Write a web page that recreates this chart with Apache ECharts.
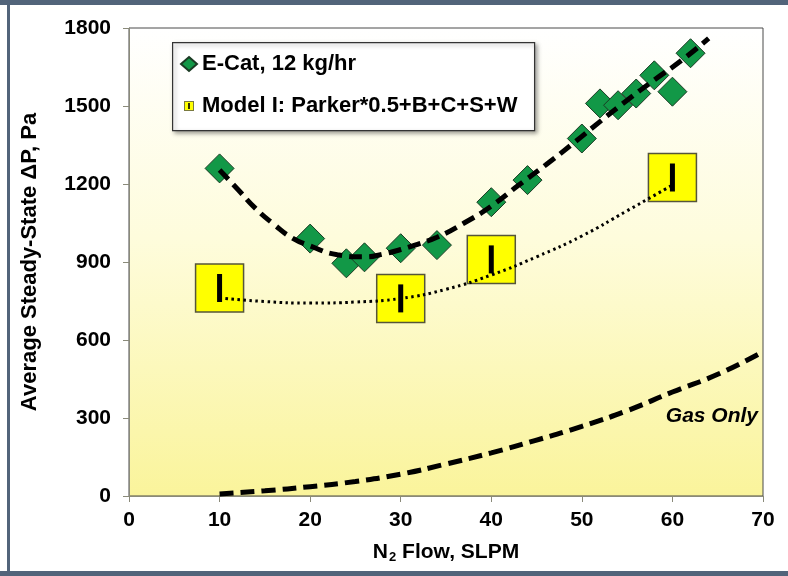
<!DOCTYPE html>
<html>
<head>
<meta charset="utf-8">
<script src="https://cdn.jsdelivr.net/npm/echarts@6/dist/echarts.min.js"></script>
<style>
  html, body { margin: 0; padding: 0; background: #ffffff; }
  #chart { width: 788px; height: 576px; }
</style>
</head>
<body>
<div id="chart"></div>
<script>
// Measured E-Cat pressure drop
const ecatFlow = [10, 20, 24, 26, 30, 34, 40, 44, 50, 52, 54, 56, 58, 60, 62];
const ecatDP   = [1260, 990, 895, 918, 953, 965, 1130, 1215, 1375, 1510, 1503, 1548, 1618, 1555, 1703];

// Fitted curve through the E-Cat data
const ecatFitFlow = [10, 12, 14, 16, 18, 20, 23, 26, 28, 30, 32, 34, 37, 40, 43, 46, 49, 52, 55, 58, 61, 64];
const ecatFitDP   = [1254, 1180, 1105, 1045, 993, 962, 928, 920, 930, 948, 970, 995, 1050, 1115, 1195, 1273, 1355, 1440, 1522, 1600, 1675, 1760];

// Model I predictions
const modelFlow = [10, 30, 40, 60];
const modelDP   = [800, 760, 910, 1225];

// Fitted curve through the model points
const modelFitFlow = [10, 15, 20, 25, 30, 35, 40, 45, 50, 55, 60];
const modelFitDP   = [762, 748, 742, 746, 760, 795, 850, 920, 1000, 1097, 1196];

// Gas-only pressure drop
const gasFlow = [10, 15, 20, 25, 30, 35, 40, 45, 50, 55, 60, 65, 70];
const gasDP   = [8, 20, 36, 56, 84, 123, 166, 215, 268, 328, 400, 468, 555];

// Axis ticks
const xTicks = [0, 10, 20, 30, 40, 50, 60, 70];
const yTicks = [0, 300, 600, 900, 1200, 1500, 1800];

const ecatName = 'E-Cat, 12 kg/hr';
const modelName = 'Model I: Parker*0.5+B+C+S+W';
const FONT = "'Liberation Sans', Arial, Helvetica, sans-serif";

const pairs = (xs, ys) => xs.map((x, i) => [x, ys[i]]);

const modelIcon = 'image://data:image/svg+xml;charset=utf-8,' + encodeURIComponent(
  "<svg xmlns='http://www.w3.org/2000/svg' width='16' height='14'>" +
  "<rect x='3.5' y='2.5' width='9' height='9' fill='#ffff00' stroke='#7a7a40' stroke-width='1'/>" +
  "<rect x='7.2' y='4' width='1.6' height='6' fill='#000'/></svg>");

const chart = echarts.init(document.getElementById('chart'), null, { renderer: 'canvas' });

chart.setOption({
  animation: false,
  backgroundColor: '#ffffff',
  textStyle: { fontFamily: FONT },
  grid: {
    left: 129, right: 25, top: 28, bottom: 80,
    show: true,
    borderColor: '#4a4a4a',
    borderWidth: 1,
    backgroundColor: new echarts.graphic.LinearGradient(0, 0, 0, 1, [
      { offset: 0, color: '#ffffff' },
      { offset: 0.45, color: '#fefcdc' },
      { offset: 1, color: '#faf49b' }
    ])
  },
  xAxis: {
    type: 'value',
    min: xTicks[0], max: xTicks[xTicks.length - 1], interval: 10,
    axisLine: { show: true, lineStyle: { color: '#8a8a7a', width: 1 } },
    axisTick: { show: true, inside: false, length: 6, lineStyle: { color: '#8a8a7a' } },
    axisLabel: { color: '#000', fontSize: 21, fontWeight: 'bold', fontFamily: FONT, margin: 14,
                 formatter: v => String(v) },
    splitLine: { show: false },
    name: '{n|N}{s|2}{n| Flow, SLPM}',
    nameLocation: 'middle',
    nameGap: 45,
    nameTextStyle: {
      rich: {
        n: { fontSize: 21, fontWeight: 'bold', color: '#000', fontFamily: FONT },
        s: { fontSize: 13, fontWeight: 'bold', color: '#000', fontFamily: FONT, padding: [10, 0, 0, 1] }
      }
    }
  },
  yAxis: {
    type: 'value',
    min: yTicks[0], max: yTicks[yTicks.length - 1], interval: 300,
    axisLine: { show: true, lineStyle: { color: '#8a8a7a', width: 1 } },
    axisTick: { show: true, inside: false, length: 6, lineStyle: { color: '#8a8a7a' } },
    axisLabel: { color: '#000', fontSize: 21, fontWeight: 'bold', fontFamily: FONT, margin: 18,
                 formatter: v => String(v) },
    splitLine: { show: false },
    name: 'Average Steady-State \u0394P, Pa',
    nameLocation: 'middle',
    nameGap: 88,
    nameTextStyle: { fontSize: 22, fontWeight: 'bold', color: '#000', fontFamily: FONT }
  },
  legend: {
    orient: 'vertical',
    left: 180, top: 53,
    padding: 0,
    itemWidth: 16, itemHeight: 14,
    itemGap: 20,
    selectedMode: false,
    textStyle: { fontSize: 22, fontWeight: 'bold', color: '#000', fontFamily: FONT, lineHeight: 22 },
    data: [
      { name: ecatName, icon: 'diamond' },
      { name: modelName, icon: modelIcon }
    ]
  },
  graphic: [
    // frame around the figure
    { type: 'rect', left: 0, top: 0, shape: { width: 788, height: 5 }, style: { fill: '#52647a' }, z: 100 },
    { type: 'rect', left: 7, top: 0, shape: { width: 3, height: 576 }, style: { fill: '#52647a' }, z: 100 },
    { type: 'rect', left: 0, top: 571, shape: { width: 788, height: 5 }, style: { fill: '#52647a' }, z: 100 },
    // legend box
    {
      type: 'rect', left: 172, top: 42, z: 0, zlevel: 0,
      shape: { width: 362, height: 88 },
      style: {
        fill: '#ffffff', stroke: '#333333', lineWidth: 1.2,
        shadowBlur: 4, shadowOffsetX: 2, shadowOffsetY: 2, shadowColor: 'rgba(0,0,0,0.35)'
      }
    },
    {
      type: 'text', right: 30, top: 406, z: 10,
      style: { text: 'Gas Only', font: "italic bold 21px 'Liberation Sans', Arial, sans-serif", fill: '#000' }
    }
  ],
  series: [
    {
      name: ecatName,
      type: 'scatter',
      data: pairs(ecatFlow, ecatDP),
      symbol: 'diamond',
      symbolSize: 29,
      itemStyle: { color: '#129847', borderColor: '#1b3b24', borderWidth: 1, opacity: 1 },
      z: 2, silent: true
    },
    {
      name: 'ecatFit',
      type: 'line',
      data: pairs(ecatFitFlow, ecatFitDP),
      smooth: true,
      showSymbol: false,
      lineStyle: { color: '#000', width: 5, type: [13, 7] },
      z: 3, silent: true
    },
    {
      name: modelName,
      type: 'scatter',
      data: pairs(modelFlow, modelDP),
      symbol: 'rect',
      symbolSize: 48,
      itemStyle: { color: '#ffff00', borderColor: '#55553a', borderWidth: 1.5, opacity: 1 },
      z: 2, silent: true
    },
    {
      name: 'modelFit',
      type: 'line',
      data: pairs(modelFitFlow, modelFitDP),
      smooth: true,
      showSymbol: false,
      lineStyle: { color: '#000', width: 3, type: [2.5, 3.5] },
      z: 3, silent: true
    },
    {
      name: 'modelBar',
      type: 'scatter',
      data: pairs(modelFlow, modelDP),
      symbol: 'rect',
      symbolSize: [5, 28],
      itemStyle: { color: '#000', opacity: 1 },
      z: 4, silent: true
    },
    {
      name: 'gasOnly',
      type: 'line',
      data: pairs(gasFlow, gasDP),
      smooth: true,
      showSymbol: false,
      lineStyle: { color: '#000', width: 5, type: [14, 7] },
      z: 3, silent: true
    }
  ]
});
</script>
</body>
</html>
